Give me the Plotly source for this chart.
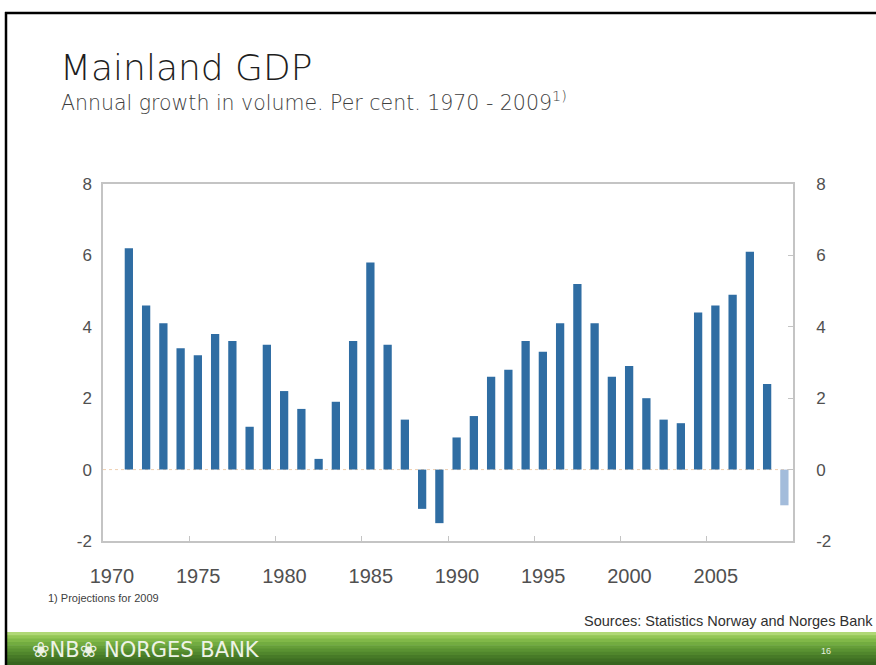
import plotly.graph_objects as go

# ---- data ----
years = list(range(1971, 2010))
growth = [6.2, 4.6, 4.1, 3.4, 3.2, 3.8, 3.6, 1.2, 3.5, 2.2,
          1.7, 0.3, 1.9, 3.6, 5.8, 3.5, 1.4, -1.1, -1.5, 0.9,
          1.5, 2.6, 2.8, 3.6, 3.3, 4.1, 5.2, 4.1, 2.6, 2.9,
          2.0, 1.4, 1.3, 4.4, 4.6, 4.9, 6.1, 2.4, -1.0]
projection_year = 2009
x_tick_years = [1970, 1975, 1980, 1985, 1990, 1995, 2000, 2005]
x_tick_labels = [str(y) for y in x_tick_years]
y_ticks = [-2, 0, 2, 4, 6, 8]
y_tick_labels = ["-2", "0", "2", "4", "6", "8"]

W, H = 876, 665
PL, PR, PT, PB = 103, 793, 184, 541  # plot area in pixels


def px(xp):
    return (xp - PL) / (PR - PL)


def py(yp):
    return (PB - yp) / (PB - PT)


BLUE = "#2f6da3"
PROJ = "#a3bcdb"
colors = [PROJ if y == projection_year else BLUE for y in years]

fig = go.Figure()
fig.add_trace(go.Bar(
    x=[f"{y}-01-01" for y in years], y=growth,
    xperiod="M12", xperiodalignment="middle",
    marker=dict(color=colors, line=dict(width=0)),
    showlegend=False, hoverinfo="x+y",
))
fig.add_trace(go.Scatter(x=[None], y=[None], yaxis="y2", showlegend=False,
                         hoverinfo="skip"))

tickfont_x = dict(family="Liberation Sans, Arial, sans-serif", size=20, color="#505050")
tickfont_y = dict(family="Liberation Sans, Arial, sans-serif", size=17, color="#505050")
frame = "#c4c4c4"

fig.update_layout(
    width=W, height=H,
    margin=dict(l=PL, r=W - PR, t=PT, b=H - PB),
    paper_bgcolor="white", plot_bgcolor="white",
    bargap=0.52,
    xaxis=dict(
        type="date",
        range=["1970-01-01", "2010-01-01"],
        tickvals=[f"{y}-01-01" for y in x_tick_years],
        ticktext=x_tick_labels,
        ticks="inside", ticklen=5, tickcolor=frame, tickwidth=1,
        showline=True, linecolor=frame, linewidth=1.5, mirror=True,
        showgrid=False, zeroline=False,
        tickfont=tickfont_x, ticklabelshift=9, ticklabelstandoff=16,
    ),
    yaxis=dict(
        range=[-2, 8], tickvals=y_ticks, ticktext=y_tick_labels,
        ticks="", showline=True, linecolor=frame, linewidth=1.5,
        showgrid=False, zeroline=False, tickfont=tickfont_y,
        ticklabelstandoff=6,
    ),
    yaxis2=dict(
        range=[-2, 8], tickvals=y_ticks, ticktext=y_tick_labels,
        overlaying="y", side="right", anchor="x",
        ticks="inside", ticklen=5, tickcolor=frame,
        showline=True, linecolor=frame, linewidth=1.5,
        showgrid=False, zeroline=False, tickfont=tickfont_y,
        ticklabelstandoff=18,
    ),
)

shapes = []
# faint dotted zero line
shapes.append(dict(type="line", xref="paper", yref="y", x0=0, x1=1, y0=0, y1=0,
                   line=dict(color="#efcfb0", width=1, dash="dot"), layer="below"))
# green footer band (vertical gradient approximated with strips)
band_top, band_bot = 632, 665
greens = ["#b0d876", "#93c656", "#80b848", "#72ac40", "#659e38",
          "#5a9232", "#50862c", "#477a27", "#3f6f23", "#37651f"]
n = len(greens)
for i, c in enumerate(greens):
    y0 = band_top + (band_bot - band_top) * i / n
    y1 = band_top + (band_bot - band_top) * (i + 1) / n + 0.6
    shapes.append(dict(type="rect", xref="paper", yref="paper",
                       x0=px(7), x1=px(W + 2), y0=py(y1), y1=py(y0),
                       line=dict(width=0), fillcolor=c, layer="above"))
# black slide border (top and left)
shapes.append(dict(type="line", xref="paper", yref="paper",
                   x0=px(5), x1=px(W + 2), y0=py(13), y1=py(13),
                   line=dict(color="black", width=2.5)))
shapes.append(dict(type="line", xref="paper", yref="paper",
                   x0=px(6), x1=px(6), y0=py(12), y1=py(H + 2),
                   line=dict(color="black", width=2.5)))
fig.update_layout(shapes=shapes)

ann = []
ann.append(dict(text="Mainland GDP", x=px(58), y=py(67), xref="paper", yref="paper",
                xanchor="left", yanchor="middle", showarrow=False,
                font=dict(family="DejaVu Sans, Liberation Sans, sans-serif", size=36,
                          color="#1e1e1e", weight=300)))
ann.append(dict(text="Annual growth in volume. Per cent. 1970 - 2009<sup>1)</sup>",
                x=px(59), y=py(102), xref="paper", yref="paper",
                xanchor="left", yanchor="middle", showarrow=False,
                font=dict(family="DejaVu Sans, Liberation Sans, sans-serif", size=20.5,
                          color="#3e3e3e", weight=300)))
ann.append(dict(text="1) Projections for 2009", x=px(46), y=py(598),
                xref="paper", yref="paper", xanchor="left", yanchor="middle",
                showarrow=False,
                font=dict(family="Liberation Sans, Arial, sans-serif", size=11,
                          color="#404040")))
ann.append(dict(text="Sources: Statistics Norway and Norges Bank", x=px(582), y=py(621),
                xref="paper", yref="paper", xanchor="left", yanchor="middle",
                showarrow=False,
                font=dict(family="Liberation Sans, sans-serif",
                          size=14.5, color="#303030")))
ann.append(dict(text="❀NB❀ NORGES BANK", x=px(30), y=py(650),
                xref="paper", yref="paper", xanchor="left", yanchor="middle",
                showarrow=False,
                font=dict(family="DejaVu Sans, sans-serif", size=21,
                          color="#eef3e6")))
ann.append(dict(text="16", x=px(826), y=py(651), xref="paper", yref="paper",
                xanchor="center", yanchor="middle", showarrow=False,
                font=dict(family="Liberation Sans, sans-serif", size=9,
                          color="#e8f0e0")))
fig.update_layout(annotations=ann)

fig.write_html("out.html",
               config={"displayModeBar": False},
               post_script="document.body.style.margin='0';"
                           "document.body.style.overflow='hidden';")
